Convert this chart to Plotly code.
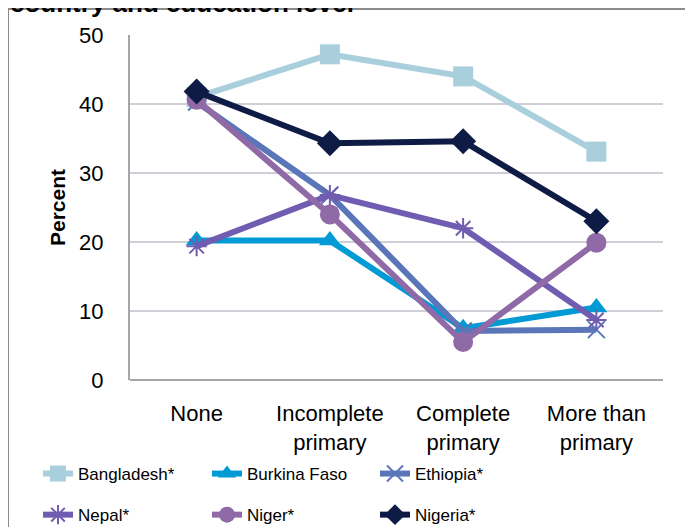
import plotly.graph_objects as go

categories = ["None", "Incomplete<br>primary", "Complete<br>primary", "More than<br>primary"]
y_ticks = [0, 10, 20, 30, 40, 50]

bangladesh = [41.0, 47.2, 44.0, 33.1]
burkina_faso = [20.2, 20.2, 7.5, 10.5]
ethiopia = [40.3, 26.8, 7.1, 7.3]
nepal = [19.4, 26.8, 22.0, 8.7]
niger = [40.6, 24.0, 5.5, 19.9]
nigeria = [41.8, 34.3, 34.6, 23.0]

FONT = "Arial, Liberation Sans, sans-serif"

series = [
    ("Bangladesh*", bangladesh, "#a9cfdd", "square", 20, "legend"),
    ("Burkina Faso", burkina_faso, "#009bd5", "triangle-up", 19, "legend2"),
    ("Ethiopia*", ethiopia, "#5b76b8", "x-thin-open", 17, "legend3"),
    ("Nepal*", nepal, "#705cb0", "asterisk-open", 17, "legend"),
    ("Niger*", niger, "#9069a7", "circle", 20, "legend2"),
    ("Nigeria*", nigeria, "#0e1c45", "diamond", 20, "legend3"),
]

# plot area in figure pixels (page adds an 8px body margin)
L, R, T, B = 122, 655, 27, 372
W, H = R - L, B - T

fig = go.Figure()
for i, (name, vals, color, sym, size, leg) in enumerate(series):
    open_sym = sym.endswith("open")
    fig.add_trace(go.Scatter(
        x=categories, y=vals, name=name, mode="lines+markers",
        line=dict(color=color, width=6),
        marker=dict(symbol=sym, size=size, color=color,
                    line=dict(color=color, width=2 if open_sym else 0)),
        legend=leg, legendgroup=name,
    ))

legend_common = dict(
    orientation="v", font=dict(family=FONT, size=17, color="#000000"),
    bgcolor="rgba(0,0,0,0)", borderwidth=0, tracegroupgap=16,
    xref="container", yref="container", xanchor="left", yanchor="top",
    itemwidth=30,
)
leg_top = 1 - 448 / 527

fig.update_layout(
    width=693, height=527,
    margin=dict(l=L, r=693 - R, t=T, b=527 - B, autoexpand=False),
    paper_bgcolor="#ffffff", plot_bgcolor="#ffffff",
    font=dict(family=FONT, size=21, color="#000000"),
    showlegend=True,
    legend=dict(legend_common, x=30 / 693, y=leg_top),
    legend2=dict(legend_common, x=199 / 693, y=leg_top),
    legend3=dict(legend_common, x=367 / 693, y=leg_top),
    xaxis=dict(
        type="category", range=[-0.5, 3.5], showgrid=False,
        showline=False, zeroline=False, ticks="", automargin=False,
        ticklabelstandoff=18,
        tickfont=dict(family=FONT, size=22, color="#000000"),
    ),
    yaxis=dict(
        range=[0, 50], tickvals=y_ticks, ticktext=[str(v) for v in y_ticks],
        showgrid=True, gridcolor="#d0ced6", gridwidth=2,
        showline=True, linecolor="#a6a6a6", linewidth=2,
        zeroline=True, zerolinecolor="#a6a6a6", zerolinewidth=2,
        ticks="", ticklabelstandoff=20, automargin=False,
        tickfont=dict(family=FONT, size=22, color="#000000"),
    ),
    annotations=[
        dict(text="<b>country and education level</b>",
             xref="paper", yref="paper", x=(0 - L) / W, y=(B + 5) / H,
             xanchor="left", yanchor="middle", showarrow=False,
             font=dict(family=FONT, size=26, color="#000000")),
        dict(text="<b>Percent</b>", textangle=-90,
             xref="paper", yref="paper",
             x=(50 - L) / W, y=(B - 200) / H,
             xanchor="center", yanchor="middle", showarrow=False,
             font=dict(family=FONT, size=21, color="#000000")),
    ],
    shapes=[dict(type="rect", xref="paper", yref="paper",
                 x0=(0 - L) / W, x1=(720 - L) / W,
                 y0=-0.6, y1=(B - 1) / H,
                 line=dict(color="#8c8c8c", width=2), fillcolor="rgba(0,0,0,0)",
                 layer="above")],
)

fig.write_html("out.html")
